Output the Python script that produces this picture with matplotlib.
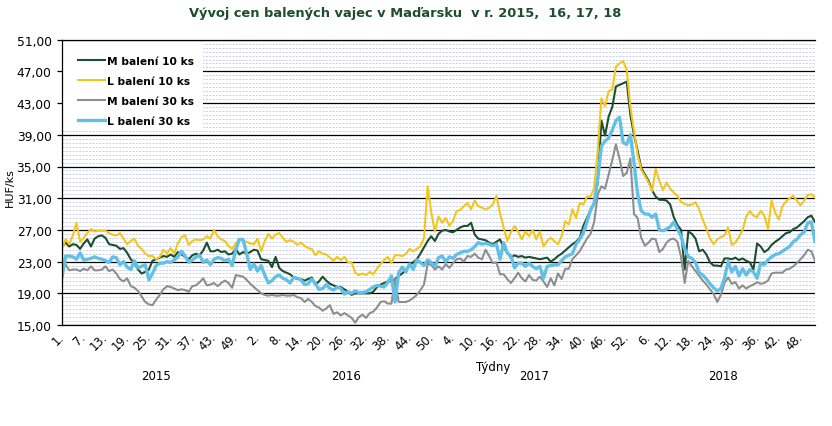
import matplotlib
matplotlib.use("Agg")
import numpy as np
import matplotlib.pyplot as plt
from matplotlib import font_manager
from matplotlib.patches import Rectangle
from matplotlib.ticker import FixedLocator, FuncFormatter
from matplotlib.transforms import blended_transform_factory

# weekly prices HUF/ks, 2015-2018
years = ["2015", "2016", "2017", "2018"]
weeks_per_year = [53, 52, 52, 52]

m10_2015 = [24.9, 25.4, 24.9, 25.2, 25.1, 24.6, 25.3, 25.8, 24.9, 25.9, 26.2, 26.3, 26.0, 25.2, 25.1, 25.0, 24.6, 24.7,
            24.1, 23.3, 22.8, 22.0, 21.5, 21.7, 22.0, 23.1, 23.3, 23.5, 23.7, 23.6, 23.9, 23.6, 24.2, 23.9, 23.6, 23.3,
            23.8, 24.0, 23.8, 24.4, 25.4, 24.3, 24.3, 24.5, 24.2, 24.3, 23.9, 24.0, 24.6, 23.9, 24.2, 24.0, 24.2]
m10_2016 = [24.5, 24.4, 23.3, 23.2, 23.1, 22.3, 23.6, 22.2, 21.8, 21.6, 21.4, 21.0, 20.8, 20.8, 20.6, 20.8, 21.0, 20.1,
            20.5, 21.1, 20.6, 20.2, 20.0, 19.8, 19.8, 19.5, 19.2, 18.8, 19.0, 19.0, 19.0, 19.0, 19.0, 19.2, 19.8, 20.1,
            20.3, 20.5, 20.5, 20.8, 21.2, 21.5, 22.0, 22.5, 22.9, 23.3, 24.0, 24.8, 25.6, 26.2, 25.6, 26.5]
m10_2017 = [26.9, 27.0, 26.8, 26.7, 27.0, 27.3, 27.5, 27.5, 27.9, 26.4, 25.9, 25.8, 25.7, 25.4, 25.2, 25.5, 25.8, 24.8,
            24.1, 23.5, 23.8, 23.6, 23.7, 23.5, 23.6, 23.5, 23.4, 23.3, 23.4, 23.5, 23.0, 23.3, 23.7, 24.0, 24.4, 24.8,
            25.2, 25.5, 26.0, 27.5, 28.5, 29.5, 30.3, 33.0, 40.8, 38.9, 41.3, 42.5, 45.1, 45.3, 45.5, 45.7]
m10_2018 = [41.5, 39.0, 37.0, 34.8, 34.0, 33.2, 32.0, 31.2, 30.8, 30.8, 30.7, 30.2, 28.6, 27.6, 27.0, 22.0, 26.8, 26.5,
            25.9, 24.3, 24.5, 23.9, 22.9, 22.5, 22.5, 22.4, 23.4, 23.4, 23.3, 23.5, 23.2, 23.4, 23.1, 22.9, 22.0, 25.3,
            24.9, 24.2, 24.5, 25.1, 25.5, 25.8, 26.2, 26.6, 26.7, 27.1, 27.3, 27.7, 28.1, 28.6, 28.8, 28.0]

l10_2015 = [24.6, 25.8, 25.2, 26.3, 27.9, 25.5, 26.0, 26.6, 27.1, 26.8, 26.9, 26.9, 26.9, 26.6, 26.4, 26.3, 26.6, 25.9,
            25.2, 25.6, 25.9, 25.0, 24.6, 24.0, 23.7, 23.7, 23.3, 23.6, 24.5, 24.0, 24.7, 24.0, 25.3, 26.1, 26.3, 25.1,
            25.6, 25.8, 25.7, 25.8, 26.2, 25.9, 27.0, 26.2, 25.8, 25.6, 25.0, 24.6, 25.3, 25.9, 25.6, 25.5, 25.3]
l10_2016 = [25.2, 25.9, 24.3, 25.6, 26.5, 25.9, 26.4, 26.6, 26.0, 25.5, 25.7, 25.5, 25.1, 25.4, 25.0, 24.7, 24.6, 23.8,
            24.3, 24.0, 23.9, 23.5, 23.1, 23.6, 23.2, 23.6, 22.9, 22.9, 21.6, 21.3, 21.5, 21.3, 21.7, 21.4, 22.1, 22.7,
            23.2, 23.6, 22.8, 23.8, 23.8, 23.7, 24.0, 24.6, 24.3, 24.6, 24.9, 26.0, 32.5, 29.2, 26.8, 28.7]
l10_2017 = [27.9, 28.5, 27.5, 28.1, 29.4, 29.5, 30.0, 30.4, 29.6, 30.7, 30.0, 29.8, 29.6, 29.8, 30.2, 31.3, 29.1, 27.3,
            25.6, 26.7, 27.5, 26.8, 25.8, 26.8, 26.2, 27.0, 25.8, 26.8, 24.9, 25.6, 26.0, 25.6, 25.2, 26.2, 28.1, 27.7,
            29.6, 28.5, 30.4, 30.2, 31.2, 31.2, 32.3, 37.1, 43.6, 42.6, 44.5, 44.7, 47.6, 48.0, 48.3, 47.2]
l10_2018 = [42.5, 39.5, 36.5, 34.6, 33.8, 33.0, 31.9, 34.7, 33.2, 32.0, 33.0, 32.2, 31.7, 31.3, 30.5, 30.3, 30.1, 30.2,
            30.5, 29.6, 28.3, 27.2, 25.9, 25.2, 25.8, 26.1, 26.3, 27.3, 25.1, 25.4, 26.1, 27.0, 28.7, 29.4, 28.8, 28.6,
            29.4, 28.8, 27.1, 30.7, 29.2, 28.3, 30.0, 30.6, 31.0, 31.3, 30.7, 30.1, 30.7, 31.4, 31.5, 31.1]

m30_2015 = [22.9, 22.6, 21.9, 22.0, 22.0, 21.8, 22.1, 21.9, 22.4, 21.9, 21.9, 22.0, 22.4, 21.8, 22.0, 21.5, 20.8, 20.5,
            20.9, 19.9, 19.7, 19.3, 18.6, 17.9, 17.6, 17.5, 18.2, 18.8, 19.5, 19.9, 19.8, 19.6, 19.4, 19.5, 19.4, 19.2,
            19.9, 20.0, 20.4, 20.9, 20.0, 20.1, 20.3, 19.9, 20.3, 20.6, 20.3, 19.7, 21.3, 21.2, 21.1, 20.7, 20.2]
m30_2016 = [19.8, 19.4, 19.0, 18.8, 18.7, 18.8, 18.7, 18.7, 18.8, 18.7, 18.7, 18.8, 18.5, 18.4, 17.9, 18.3, 17.9, 17.4,
            17.2, 16.8, 17.1, 17.5, 16.4, 16.6, 16.2, 16.5, 16.2, 15.9, 15.3, 16.0, 16.3, 15.9, 16.5, 16.7, 17.2, 17.9,
            18.0, 17.7, 17.7, 20.8, 17.9, 17.9, 17.9, 18.1, 18.4, 18.8, 19.4, 20.1, 22.7, 22.6, 22.0, 22.4]
m30_2017 = [22.0, 22.7, 22.2, 22.8, 23.3, 23.4, 23.0, 23.7, 23.6, 24.0, 23.5, 23.3, 24.5, 23.7, 22.8, 22.9, 21.4, 21.4,
            20.8, 20.3, 20.9, 21.6, 20.9, 20.5, 21.3, 20.7, 20.6, 21.1, 20.5, 19.8, 20.9, 20.0, 21.5, 20.8, 22.1, 22.1,
            23.3, 23.8, 24.3, 25.1, 25.9, 26.5, 28.0, 31.5, 32.5, 32.2, 34.0, 35.8, 37.8, 36.0, 33.8, 34.2]
m30_2018 = [36.0, 29.0, 28.5, 26.0, 25.0, 25.4, 25.9, 25.8, 24.2, 24.6, 25.4, 25.8, 25.9, 25.5, 23.6, 20.3, 23.1, 22.4,
            21.8, 21.2, 20.6, 20.1, 19.5, 18.9, 17.9, 18.8, 20.3, 21.0, 20.2, 20.4, 19.6, 20.0, 19.6, 19.9, 20.1, 20.4,
            20.2, 20.3, 20.6, 21.5, 21.6, 21.6, 21.6, 22.0, 22.1, 22.4, 22.8, 23.3, 23.8, 24.5, 24.3, 23.1]

l30_2015 = [21.0, 23.7, 23.7, 23.6, 23.3, 24.1, 23.2, 23.3, 23.4, 23.6, 23.4, 23.3, 23.1, 22.9, 23.6, 23.5, 22.6, 23.0,
            22.3, 22.0, 23.1, 22.2, 22.4, 22.6, 20.7, 21.5, 22.5, 22.8, 22.8, 23.0, 22.9, 23.2, 23.6, 24.3, 23.7, 22.9,
            23.2, 23.6, 23.8, 22.9, 23.2, 22.6, 23.3, 23.5, 23.4, 23.1, 23.3, 22.5, 24.5, 25.8, 25.8, 24.0, 22.0]
l30_2016 = [22.7, 21.8, 22.5, 21.3, 20.3, 20.6, 21.1, 21.3, 20.9, 20.7, 20.3, 21.0, 20.9, 20.7, 20.1, 20.2, 20.8, 20.2,
            19.5, 19.6, 20.1, 19.6, 19.4, 19.8, 19.6, 18.9, 19.2, 19.0, 19.3, 19.1, 19.1, 19.2, 19.5, 19.8, 20.0, 19.9,
            19.8, 20.4, 21.2, 17.9, 21.6, 22.3, 21.7, 22.7, 22.0, 23.2, 22.9, 22.5, 23.2, 22.9, 22.4, 23.5]
l30_2017 = [23.7, 23.0, 23.6, 23.4, 23.9, 24.1, 24.3, 24.3, 24.5, 24.9, 25.4, 25.2, 25.3, 25.2, 25.0, 25.2, 23.3, 25.4,
            24.1, 23.7, 22.2, 22.8, 22.8, 22.4, 22.8, 22.4, 22.1, 22.4, 20.9, 22.4, 22.5, 22.6, 22.6, 23.1, 23.6, 23.8,
            24.0, 25.2, 25.8, 26.6, 28.0, 29.5, 30.4, 33.5, 37.6, 38.2, 38.6, 39.6, 40.8, 41.2, 38.0, 37.8]
l30_2018 = [39.0, 35.5, 31.5, 29.4, 29.0, 29.0, 28.6, 29.0, 27.0, 26.9, 27.1, 27.4, 28.0, 27.1, 26.2, 24.6, 23.6, 23.4,
            22.9, 21.6, 21.3, 20.8, 20.2, 19.7, 19.3, 19.6, 20.9, 23.0, 21.7, 22.4, 21.2, 22.1, 21.3, 22.0, 21.7, 20.9,
            22.8, 22.6, 23.2, 23.6, 23.9, 24.0, 24.3, 24.6, 24.9, 25.5, 25.8, 26.4, 26.7, 27.9, 28.0, 25.5]

series = [
    ("M balení 10 ks", m10_2015 + m10_2016 + m10_2017 + m10_2018, "#1b4f30", 1.5),
    ("L balení 10 ks", l10_2015 + l10_2016 + l10_2017 + l10_2018, "#f3c61c", 1.5),
    ("M balení 30 ks", m30_2015 + m30_2016 + m30_2017 + m30_2018, "#8e8e8e", 1.5),
    ("L balení 30 ks", l30_2015 + l30_2016 + l30_2017 + l30_2018, "#62c0e6", 2.4),
]

# category labels: week number of every 6th week
week_numbers = []
for n in weeks_per_year:
    week_numbers += list(range(1, n + 1))
n_weeks = len(week_numbers)

fig = plt.figure(figsize=(8.32, 4.27), dpi=100)
ax = fig.add_axes([62 / 832, 1 - 326 / 427, (815 - 62) / 832, (326 - 40.7) / 427])

for label, values, color, lw in series:
    ax.plot(range(len(values)), values, color=color, lw=lw, label=label, solid_joinstyle="round")

ax.set_xlim(0, n_weeks - 1)
ax.set_ylim(15, 51)
ax.yaxis.set_major_locator(FixedLocator(np.arange(15, 51.1, 4)))
ax.yaxis.set_minor_locator(FixedLocator(np.arange(15, 51.1, 0.5)))
ax.yaxis.set_major_formatter(FuncFormatter(lambda v, p: f"{v:.2f}".replace(".", ",")))
ax.set_axisbelow(True)
ax.grid(which="minor", axis="y", color="#c3cadf", lw=0.6, linestyle=(0, (2.5, 1.5)))
ax.grid(which="major", axis="y", color="black", lw=0.9, linestyle="-")
ax.grid(which="major", axis="x", visible=False)
ax.tick_params(axis="y", which="major", length=3.5, width=0.9, direction="out", labelsize=8.8, pad=4)
ax.tick_params(axis="y", which="minor", length=0)

tick_pos = list(range(0, n_weeks, 6))
ax.set_xticks(tick_pos)
ax.set_xticklabels([f"{week_numbers[i]}." for i in tick_pos], rotation=45, ha="right", va="center",
                   rotation_mode="anchor", fontsize=8.3)
ax.tick_params(axis="x", length=0, pad=7)

ax.spines["right"].set_visible(False)
for side in ["left", "bottom", "top"]:
    ax.spines[side].set_linewidth(0.9)
    ax.spines[side].set_color("black")

# year labels under the week labels
trans = blended_transform_factory(ax.transData, ax.transAxes)
start = 0
for year, n in zip(years, weeks_per_year):
    ax.text(start + (n - 1) / 2, -0.176, year, transform=trans, ha="center", va="center", fontsize=8.5)
    start += n

fig.text(493 / 832, 1 - 368 / 427, "Týdny", ha="center", va="center", fontsize=8.5)
fig.text(10 / 832, 1 - 188 / 427, "HUF/ks", rotation=90, ha="center", va="center", fontsize=8)

names = {f.name for f in font_manager.fontManager.ttflist}
if "Liberation Sans Narrow" in names:
    title_kw = dict(family="Liberation Sans Narrow", fontsize=11.5)
else:
    title_kw = dict(family="DejaVu Sans", fontsize=9.4)
fig.text(405 / 832, 1 - 13 / 427, "Vývoj cen balených vajec v Maďarsku  v r. 2015,  16, 17, 18",
         ha="center", va="center", fontweight="bold", color="#1d4d2d", **title_kw)

# white legend background, below the spines
ax.add_patch(Rectangle((0, (326 - 130) / 285.3), (203 - 62) / 753, (130 - 43) / 285.3,
                       transform=ax.transAxes, facecolor="white", edgecolor="none", zorder=1))
leg = ax.legend(loc="upper left", bbox_to_anchor=(0, 1), borderaxespad=0, frameon=False,
                prop=dict(weight="bold", size=7.7),
                handlelength=2.5, handletextpad=0.2, labelspacing=0.95, borderpad=1.5)

fig.savefig("out.png", dpi=100)
